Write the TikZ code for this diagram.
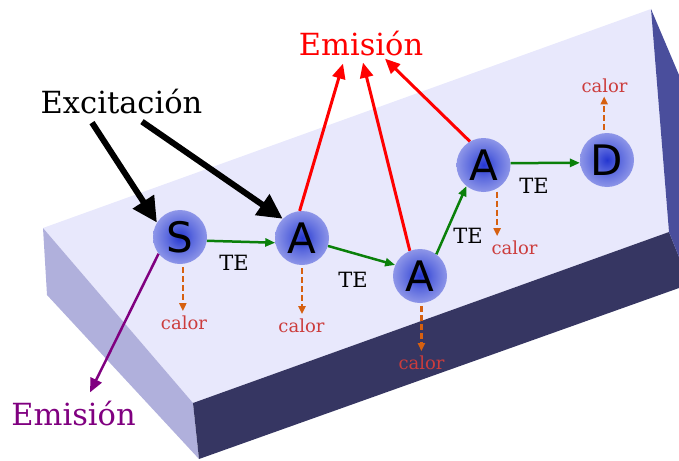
\documentclass[tikz,border=0pt]{standalone}
\usepackage{fontspec}
\setmainfont{DejaVu Serif}
\newfontfamily\letrasitio{DejaVu Sans}
\usetikzlibrary{arrows.meta, calc}

\definecolor{caraarriba}{RGB}{232,232,252}
\definecolor{caraizq}{RGB}{176,176,220}
\definecolor{carafrente}{RGB}{54,54,98}
\definecolor{caraderecha}{RGB}{74,78,156}
\definecolor{brilloin}{RGB}{36,54,208}
\definecolor{brillomed}{RGB}{92,106,222}
\definecolor{brilloout}{RGB}{160,166,236}
\definecolor{brilloborde}{RGB}{196,199,244}
\definecolor{brillofin}{RGB}{220,221,249}
\definecolor{verdete}{RGB}{10,128,10}
\definecolor{naranja}{RGB}{214,96,16}
\definecolor{rojocalor}{RGB}{204,60,60}
\definecolor{violeta}{RGB}{128,0,128}

\pgfdeclareradialshading{brillo}{\pgfpoint{0bp}{0bp}}{color(0bp)=(brilloin); color(12bp)=(brillomed); color(30bp)=(brilloout); color(44bp)=(brilloborde); color(50bp)=(brillofin)}

\tikzset{
    sitio/.style={circle, shade, shading=brillo, minimum size=54pt, inner sep=0pt, font=\letrasitio\fontsize{42}{42}\selectfont},
    rotulo/.style={inner sep=0pt, font=\fontsize{30.5}{36}\selectfont},
    tetexto/.style={inner sep=0pt, font=\fontsize{21}{24}\selectfont},
    calortexto/.style={inner sep=2pt, text=rojocalor, font=\fontsize{18}{20}\selectfont},
    excita/.style={line width=6pt, -{Triangle[length=25pt, width=24pt]}},
    emite/.style={line width=3pt, red, -{Triangle[length=15pt, width=13pt]}},
    emitev/.style={line width=2.5pt, violeta, -{Triangle[length=14pt, width=12pt]}},
    transf/.style={line width=2.5pt, verdete, -{Triangle[length=10pt, width=8pt]}},
    calorflecha/.style={line width=2.2pt, naranja, dash pattern=on 6pt off 3pt, shorten <=3pt, shorten >=2pt, -{Triangle[length=8pt, width=7pt]}}
}

\begin{document}
\begin{tikzpicture}[x=1pt, y=-1pt]
    \useasboundingbox (0,0) rectangle (679,460);

    % bloque
    \fill[caraarriba] (43,228) -- (651,9) -- (669,232) -- (193,403) -- cycle;
    \fill[caraizq] (43,228) -- (193,403) -- (199,459) -- (47,295) -- cycle;
    \fill[carafrente] (193,403) -- (669,232) -- (679,257) -- (679,288) -- (199,459) -- cycle;
    \fill[caraderecha] (651,9) -- (679,75) -- (679,257) -- (669,232) -- cycle;

    % sitios
    \node[sitio] (s) at (180,237) {S};
    \node[sitio] (a1) at (302,238) {A};
    \node[sitio] (a2) at (420,276) {A};
    \node[sitio] (a3) at (483.5,165) {A};
    \node[sitio] (d) at (607,160) {D};

    % rotulos
    \node[rotulo, anchor=base] (excitacion) at (121.5,113) {Excitación};
    \node[rotulo, text=red, anchor=base] (emisionroja) at (361,56) {Emisión};
    \node[rotulo, text=violeta, anchor=base] (emisionvioleta) at (73.5,425) {Emisión};

    \node[tetexto, anchor=base] (te1) at (234,270) {TE};
    \node[tetexto, anchor=base] (te2) at (353,287) {TE};
    \node[tetexto, anchor=base] (te3) at (468,243) {TE};
    \node[tetexto, anchor=base] (te4) at (534,193) {TE};

    \node[calortexto, anchor=base] (cs) at (184,329) {calor};
    \node[calortexto, anchor=base] (ca1) at (301.5,332) {calor};
    \node[calortexto, anchor=base] (ca2) at (421.5,369) {calor};
    \node[calortexto, anchor=base] (ca3) at (514.5,254) {calor};
    \node[calortexto, anchor=base] (cd) at (604.5,92) {calor};

    % excitacion
    \draw[excita] ([xshift=-29.5pt, yshift=-9pt]excitacion.south) -- (s.148);
    \draw[excita] ([xshift=20.5pt, yshift=-8pt]excitacion.south) -- (a1.135);

    % emision
    \draw[emite] (a1.95) -- ([xshift=-18pt, yshift=-7pt]emisionroja.south);
    \draw[emite] (a2.112) -- ([xshift=2pt, yshift=-6pt]emisionroja.south);
    \draw[emite] (a3.120) -- ([xshift=24pt, yshift=-2pt]emisionroja.south);
    \draw[emitev] (s.218) -- ([xshift=16.5pt, yshift=8pt]emisionvioleta.north);

    % transferencia de energia
    \draw[transf] (s.-8) -- (a1.190);
    \draw[transf] (a1.-17) -- (a2.156);
    \draw[transf] (a2.53) -- (a3.231);
    \draw[transf] (a3.4) -- (d.186);

    % calor
    \draw[calorflecha] (s.-84) -- (s.-84 |- cs.north);
    \draw[calorflecha] (a1.-90) -- (a1.-90 |- ca1.north);
    \draw[calorflecha] (a2.-87) -- (a2.-87 |- ca2.north);
    \draw[calorflecha] (a3.-60) -- (a3.-60 |- ca3.north);
    \draw[calorflecha] (d.96) -- (d.96 |- cd.south);
\end{tikzpicture}
\end{document}
